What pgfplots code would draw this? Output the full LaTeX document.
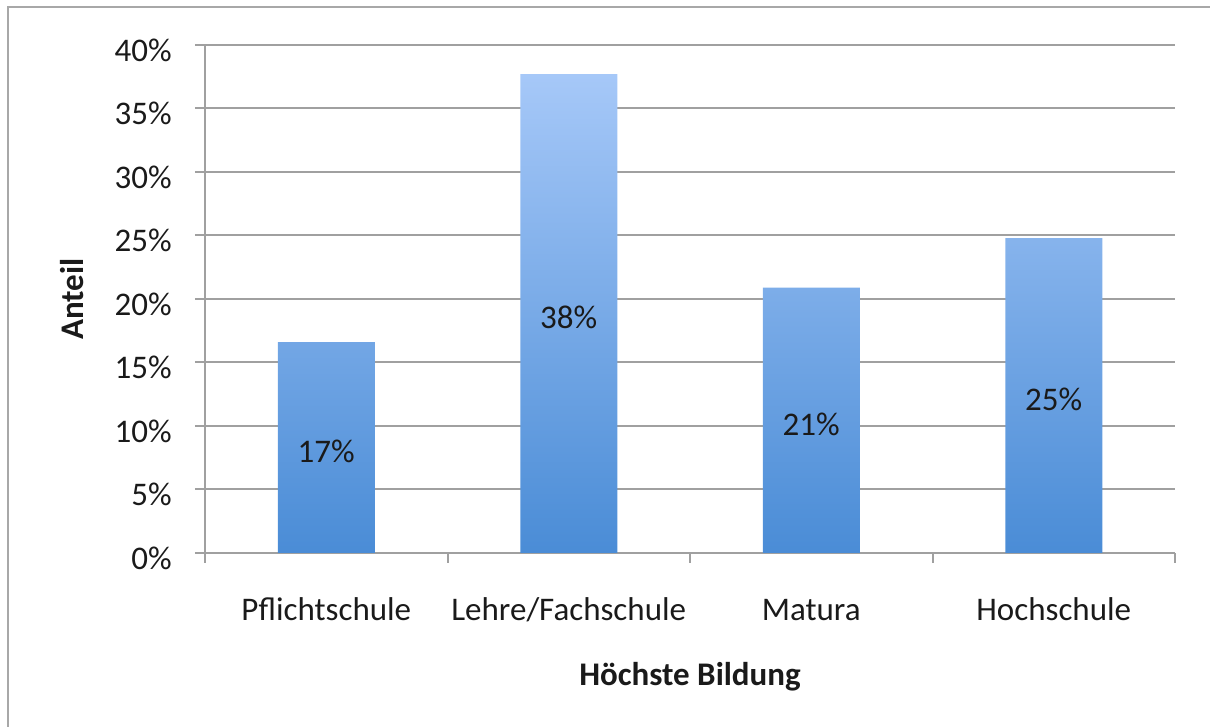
\documentclass[border=0pt]{standalone}
\usepackage{pgfplots}
\pgfplotsset{compat=1.18}
\usepackage{fontspec}
\setmainfont{Carlito}
\definecolor{barTop}{HTML}{A6C8F8}
\definecolor{barBot}{HTML}{4A8CD6}
\definecolor{gridc}{HTML}{A0A0A0}
\definecolor{framec}{HTML}{A8A8A8}
\definecolor{txt}{HTML}{1A1A1A}
\begin{document}
\begin{tikzpicture}[font=\fontsize{16.5}{20}\selectfont, x=1pt, y=1pt]
\begin{axis}[
  at={(102.5pt,87pt)}, anchor=south west,
  scale only axis, width=485pt, height=254pt,
  xmin=-0.5, xmax=3.5, ymin=0, ymax=40,
  axis x line*=bottom, axis y line*=left,
  axis line style={gridc, line width=1pt, -},
  /pgf/number format/assume math mode=true,
  tick align=outside,
  major tick length=5pt,
  tick style={gridc, line width=1pt},
  xtick={-0.5,0.5,1.5,2.5,3.5},
  xticklabels={},
  extra x ticks={0,1,2,3},
  extra x tick labels={Pflichtschule,Lehre/Fachschule,Matura,Hochschule},
  extra x tick style={major tick length=0pt, tick style={draw=none}},
  xticklabel style={anchor=base, yshift=-34pt, text=txt, inner sep=0pt},
  ytick={0,5,...,40},
  yticklabel={\pgfmathprintnumber{\tick}\%},
  yticklabel style={anchor=east, inner sep=0pt, xshift=-11.5pt, yshift=-2.5pt, text=txt},
  ymajorgrids,
  grid style={gridc, line width=1pt},
  ylabel={\bfseries Anteil},
  ylabel style={at={(axis description cs:-0.1371,0.5)}, anchor=center, text=txt},
  xlabel={\bfseries Höchste Bildung},
  xlabel style={at={(axis description cs:0.5,-0.2618)}, anchor=base, text=txt},
  clip=false,
]
\addplot[ybar, bar width=48.5pt, draw=none, top color=barTop, bottom color=barBot]
  coordinates {(0,16.6) (1,37.7) (2,20.9) (3,24.8)};
\addplot[draw=none, mark=none, nodes near coords, point meta=explicit symbolic,
  every node near coord/.append style={anchor=center, yshift=-2pt, text=txt}]
  coordinates {(0,8.3)[17\%] (1,18.85)[38\%] (2,10.45)[21\%] (3,12.4)[25\%]};
\end{axis}
\draw[framec, line width=1pt] (4pt,-20pt) -- (4pt,360pt) -- (640pt,360pt);
\pgfresetboundingbox
\useasboundingbox (0pt,0pt) rectangle (605pt,363.5pt);
\end{tikzpicture}
\end{document}
